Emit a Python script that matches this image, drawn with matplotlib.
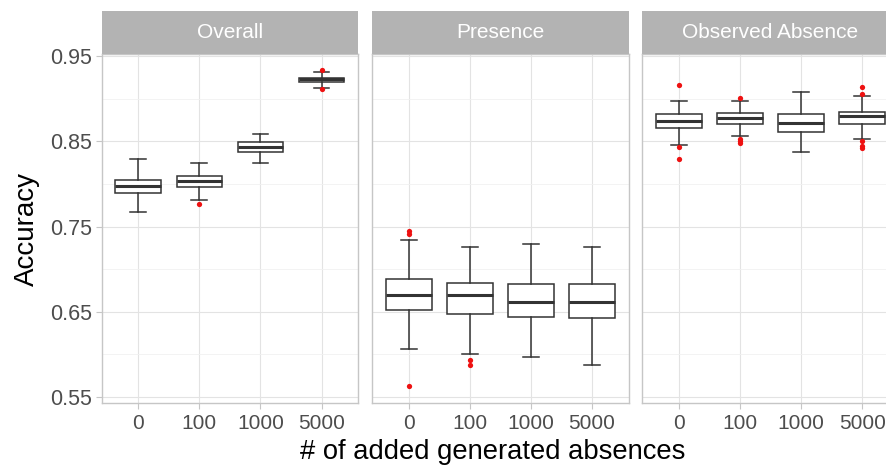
import matplotlib
matplotlib.use('Agg')
import matplotlib.pyplot as plt

plt.rcParams['font.family'] = ['Liberation Sans', 'DejaVu Sans']

panels = ['Overall', 'Presence', 'Observed Absence']
categories = ['0', '100', '1000', '5000']

# five-number summaries: [whislo, q1, median, q3, whishi]
overall = [[0.767, 0.789, 0.798, 0.805, 0.829],
           [0.781, 0.797, 0.803, 0.810, 0.825],
           [0.825, 0.838, 0.844, 0.849, 0.859],
           [0.913, 0.920, 0.923, 0.925, 0.932]]
presence = [[0.606, 0.652, 0.670, 0.688, 0.734],
            [0.601, 0.648, 0.670, 0.684, 0.726],
            [0.597, 0.644, 0.661, 0.683, 0.730],
            [0.588, 0.643, 0.661, 0.683, 0.726]]
absence = [[0.846, 0.866, 0.874, 0.882, 0.898],
           [0.856, 0.871, 0.877, 0.883, 0.898],
           [0.837, 0.861, 0.872, 0.882, 0.908],
           [0.853, 0.871, 0.880, 0.885, 0.903]]

overall_out = [[], [0.776], [], [0.934, 0.912]]
presence_out = [[0.745, 0.741, 0.5625], [0.593, 0.588], [], []]
absence_out = [[0.916, 0.843, 0.8295], [0.901, 0.853, 0.850, 0.8476], [],
               [0.914, 0.906, 0.8506, 0.8452, 0.842]]

summaries = [overall, presence, absence]
outliers = [overall_out, presence_out, absence_out]

W, H = 886, 468
fig = plt.figure(figsize=(W / 100, H / 100), dpi=100)

box_col = '#333333'
strip_col = '#B3B3B3'
frame_col = '#C6C6C6'
panel_left = [101.7, 372.0, 642.3]
panel_w = 256.5
top, bottom = 54, 403
strip_top = 11

for k, name in enumerate(panels):
    x0 = panel_left[k]
    ax = fig.add_axes([x0 / W, (H - bottom) / H, panel_w / W, (bottom - top) / H])
    stats = []
    for s, out in zip(summaries[k], outliers[k]):
        stats.append(dict(whislo=s[0], q1=s[1], med=s[2], q3=s[3], whishi=s[4], fliers=out))
    ax.bxp(stats, positions=[1, 2, 3, 4], widths=0.75, capwidths=0.26,
           patch_artist=True, showfliers=True,
           boxprops=dict(facecolor='white', edgecolor=box_col, linewidth=1.1),
           medianprops=dict(color=box_col, linewidth=2.2, solid_capstyle='butt'),
           whiskerprops=dict(color=box_col, linewidth=1.1),
           capprops=dict(color=box_col, linewidth=1.1),
           flierprops=dict(marker='o', markerfacecolor='#EE1111', markeredgecolor='none',
                           markersize=3.8))
    ax.set_xlim(0.4, 4.6)
    ax.set_ylim(0.543, 0.9526)
    ax.set_xticks([1, 2, 3, 4])
    ax.set_xticklabels(categories)
    ax.set_yticks([0.55, 0.65, 0.75, 0.85, 0.95])
    ax.set_yticks([0.6, 0.7, 0.8, 0.9], minor=True)
    ax.grid(True, which='major', color='#E3E3E3', linewidth=0.8)
    ax.grid(True, which='minor', axis='y', color='#F1F1F1', linewidth=0.6)
    ax.set_axisbelow(True)
    for sp in ax.spines.values():
        sp.set_color(frame_col)
        sp.set_linewidth(1.0)
    ax.tick_params(axis='x', colors=frame_col, labelcolor='#4D4D4D', labelsize=15,
                   length=4, width=0.8, pad=4)
    ax.tick_params(axis='y', which='major', colors=frame_col, labelcolor='#4D4D4D',
                   labelsize=15.5, length=4, width=0.8, pad=3)
    ax.tick_params(axis='y', which='minor', length=0)
    if k > 0:
        ax.tick_params(axis='y', which='major', length=0, labelleft=False)
    else:
        ax.set_ylabel('Accuracy', fontsize=20, labelpad=7)

    sax = fig.add_axes([x0 / W, (H - top) / H, panel_w / W, (top - strip_top) / H])
    sax.set_facecolor(strip_col)
    sax.set_xticks([])
    sax.set_yticks([])
    for sp in sax.spines.values():
        sp.set_visible(False)
    sax.text(0.5, 0.5, name, color='white', fontsize=15, ha='center', va='center',
             transform=sax.transAxes)

fig.text(493 / W, 1 - 452 / H, '# of added generated absences', fontsize=19.7,
         ha='center', va='center')

fig.savefig('out.png', dpi=100)
